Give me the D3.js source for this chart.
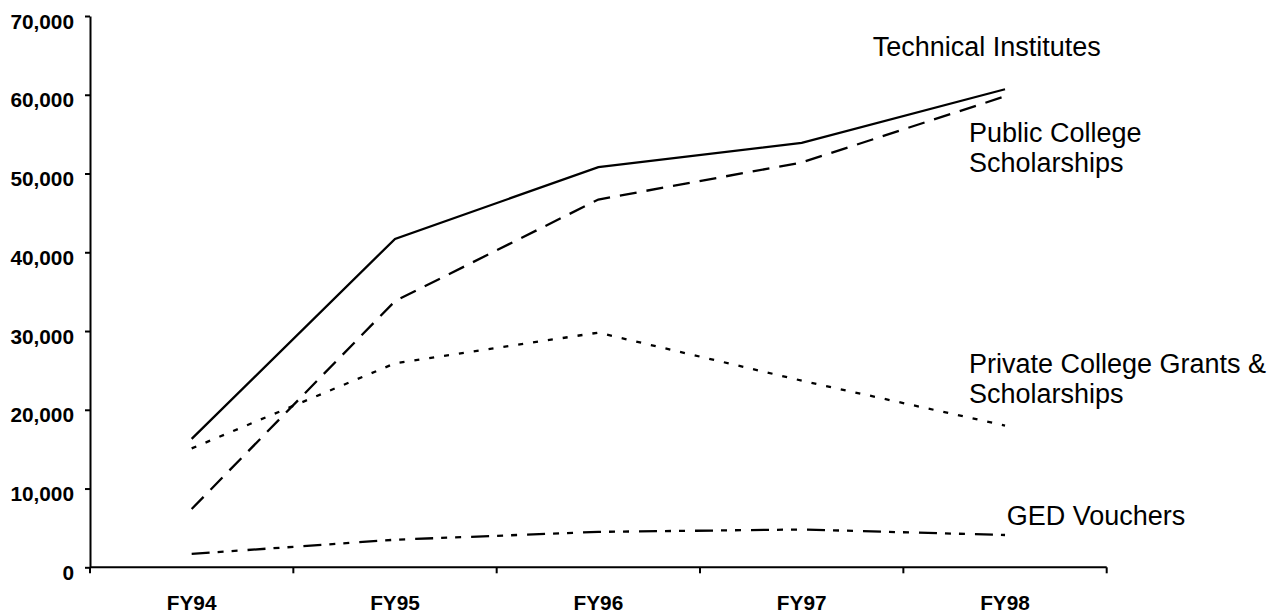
<!DOCTYPE html>
<html><head><meta charset="utf-8">
<script src="https://cdn.jsdelivr.net/npm/d3@7/dist/d3.min.js"></script>
<style>body{margin:0;background:#fff}svg{display:block}</style>
</head><body>
<svg id="c" width="1282" height="613"></svg>
<script>
const categories = ["FY94","FY95","FY96","FY97","FY98"];
const technicalInstitutes = [16300, 41700, 50800, 53900, 60700];
const publicCollege = [7400, 33800, 46700, 51400, 59800];
const privateCollege = [15100, 25900, 29800, 23700, 18000];
const gedVouchers = [1700, 3500, 4500, 4800, 4100];
const yTicks = [0,10000,20000,30000,40000,50000,60000,70000];

const series = [
  {name:["Technical Institutes"], values:technicalInstitutes, dash:null, lx:872.7, ly:55.7},
  {name:["Public College","Scholarships"], values:publicCollege, dash:"17,10", lx:969, ly:141.7},
  {name:["Private College Grants &","Scholarships"], values:privateCollege, dash:"5,10", lx:969, ly:372.7},
  {name:["GED Vouchers"], values:gedVouchers, dash:"18,8,6,8,6,10", lx:1006.7, ly:525}
];

const svg = d3.select("#c");
const x = d3.scaleBand().domain(categories).range([90, 1106.7]).padding(0);
const y = d3.scaleLinear().domain([0,70000]).range([567.3, 16]);

// Y axis
const yAxis = d3.axisLeft(y).tickValues(yTicks).tickFormat(d3.format(",")).tickSize(5).tickSizeOuter(0).tickPadding(11);
const gy = svg.append("g").attr("transform","translate(90,0)").call(yAxis);
gy.select(".domain").attr("stroke","#000").attr("stroke-width",2);
gy.selectAll(".tick line").attr("stroke","#000").attr("stroke-width",2);
gy.selectAll(".tick text").attr("font-family","Arial, 'Liberation Sans', sans-serif")
  .attr("font-weight","bold").attr("font-size","20.8px").attr("fill","#000").attr("dy","0.7em").attr("y",-2.5);

// X axis
const gx = svg.append("g");
gx.append("line").attr("x1",x.range()[0]).attr("x2",x.range()[1]).attr("y1",y(0)).attr("y2",y(0))
  .attr("stroke","#000").attr("stroke-width",2);
const bounds = categories.map(c=>x(c)).concat([x(categories[categories.length-1])+x.bandwidth()]);
gx.selectAll("line.t").data(bounds).enter().append("line").attr("class","t")
  .attr("x1",d=>d).attr("x2",d=>d).attr("y1",y(0)).attr("y2",y(0)+6)
  .attr("stroke","#000").attr("stroke-width",2);
gx.selectAll("text").data(categories).enter().append("text")
  .attr("x",d=>x(d)+x.bandwidth()/2).attr("y",610)
  .attr("text-anchor","middle").attr("font-family","Arial, 'Liberation Sans', sans-serif")
  .attr("font-weight","bold").attr("font-size","20.8px").text(d=>d);

// Lines
const line = d3.line().x((d,i)=>x(categories[i])+x.bandwidth()/2).y(d=>y(d));
series.forEach(s=>{
  svg.append("path").datum(s.values).attr("d",line).attr("fill","none")
    .attr("stroke","#000").attr("stroke-width",2.3)
    .attr("stroke-dasharray",s.dash).attr("stroke-linejoin","miter");
  const t = svg.append("text").attr("font-family","Arial, 'Liberation Sans', sans-serif")
    .attr("font-size","27px").attr("fill","#000");
  s.name.forEach((n,i)=>{
    t.append("tspan").attr("x",s.lx).attr("y",s.ly+i*30.5).text(n);
  });
});
</script>
</body></html>
